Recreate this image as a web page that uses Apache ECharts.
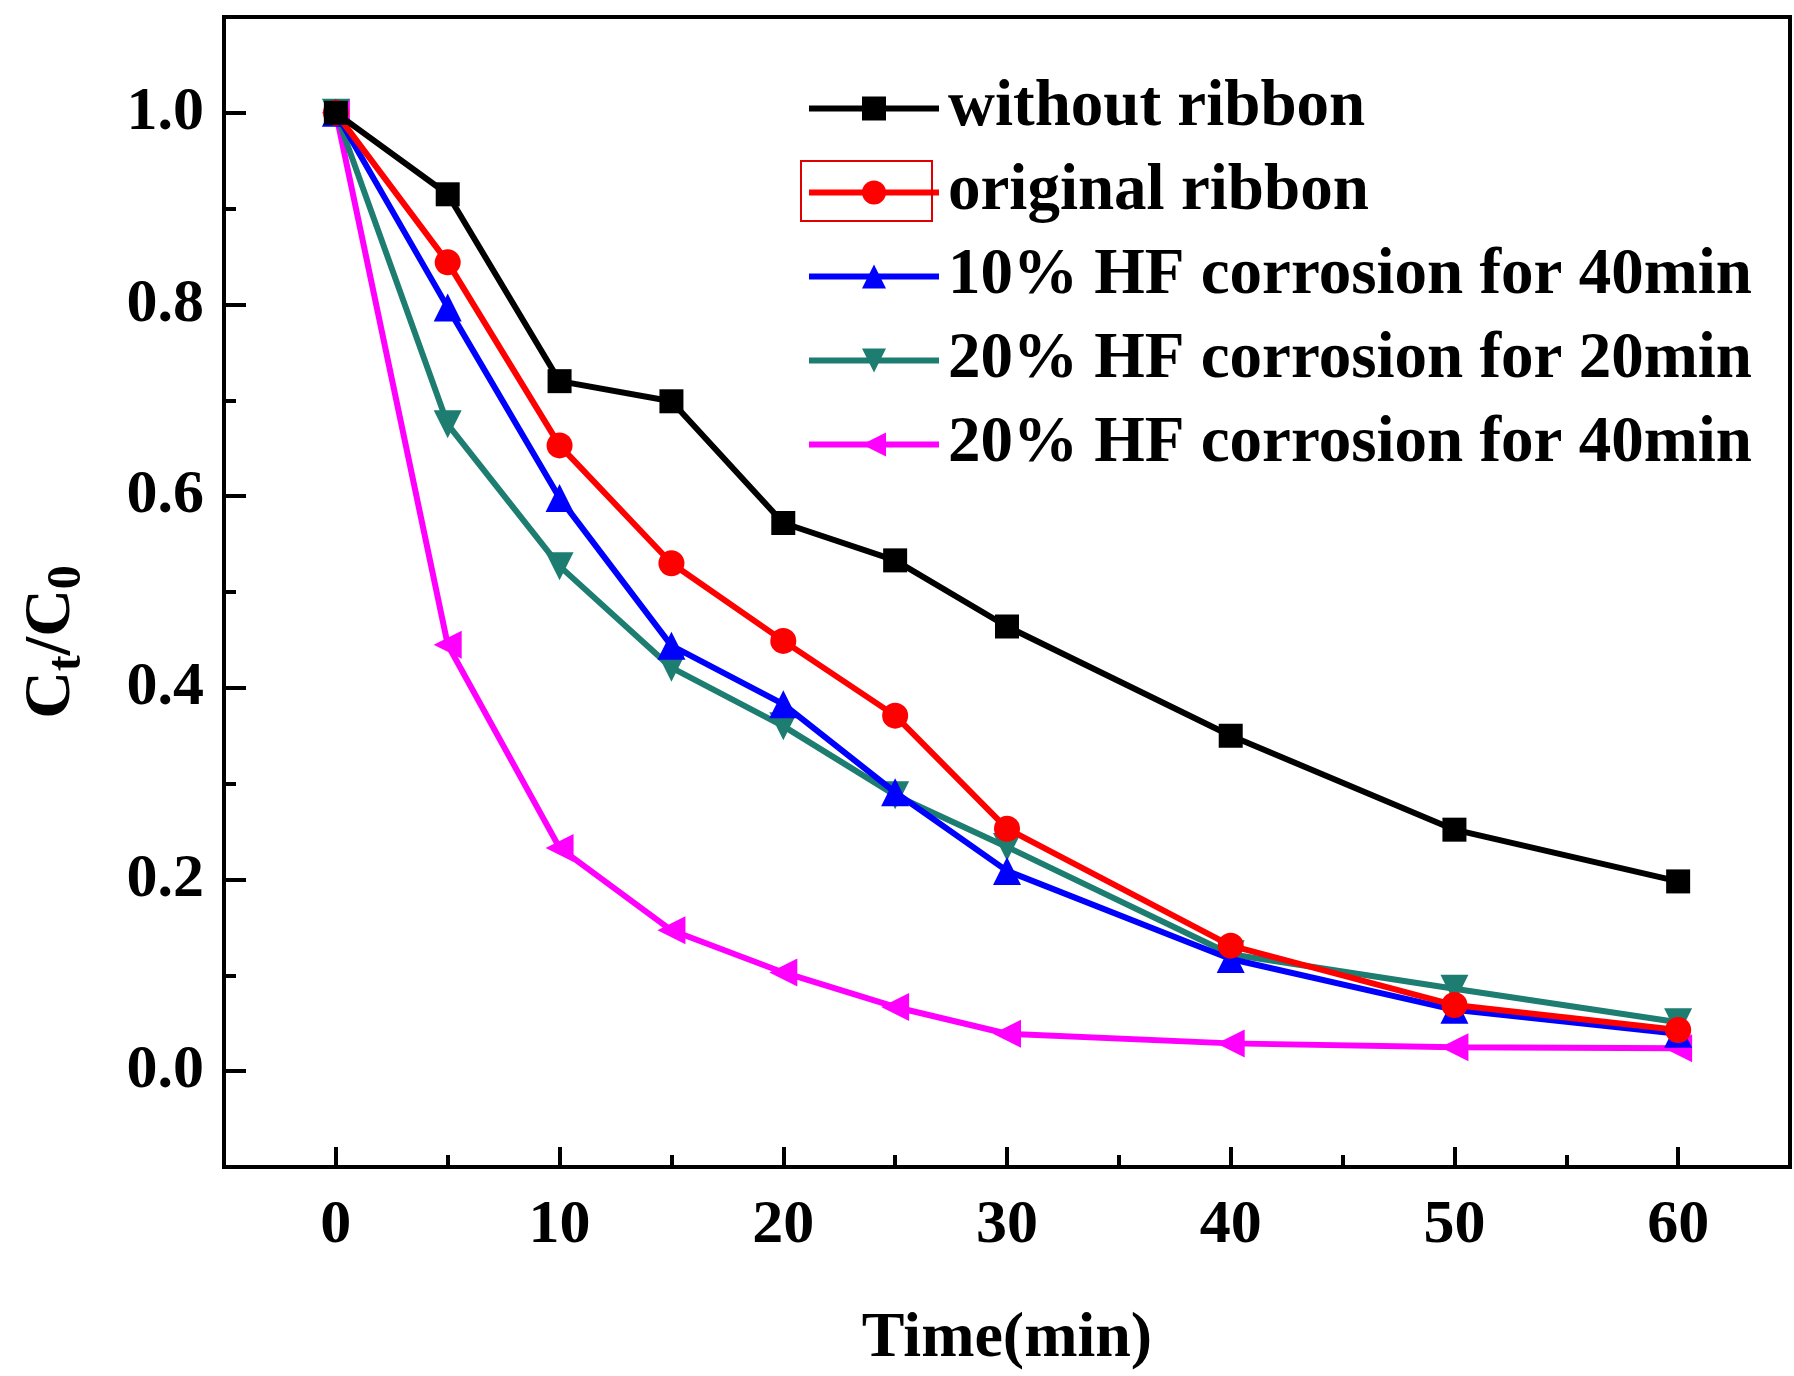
<!DOCTYPE html>
<html>
<head>
<meta charset="utf-8">
<script src="https://cdn.jsdelivr.net/npm/echarts@6/dist/echarts.min.js"></script>
<style>html,body{margin:0;padding:0;background:#fff;}#c{width:1794px;height:1376px;}</style>
</head>
<body>
<div id="c"></div>
<script>
const times = [0, 5, 10, 15, 20, 25, 30, 40, 50, 60];
const seriesNames = ['without ribbon', 'original ribbon', '10% HF corrosion for 40min', '20% HF corrosion for 20min', '20% HF corrosion for 40min'];
const withoutRibbon = [1.0, 0.915, 0.720, 0.699, 0.572, 0.533, 0.464, 0.350, 0.252, 0.198];
const originalRibbon = [1.0, 0.844, 0.653, 0.530, 0.449, 0.371, 0.253, 0.131, 0.069, 0.043];
const hf10_40 = [1.0, 0.797, 0.598, 0.444, 0.383, 0.291, 0.209, 0.117, 0.064, 0.039];
const hf20_20 = [1.0, 0.675, 0.527, 0.421, 0.360, 0.288, 0.234, 0.122, 0.086, 0.051];
const hf20_40 = [1.0, 0.445, 0.233, 0.147, 0.103, 0.067, 0.039, 0.029, 0.025, 0.024];
const xMajorTicks = [0, 10, 20, 30, 40, 50, 60];
const xMinorTicks = [5, 15, 25, 35, 45, 55];
const yMajorTicks = [0, 0.2, 0.4, 0.6, 0.8, 1.0];
const yMinorTicks = [0.1, 0.3, 0.5, 0.7, 0.9];

const colors = ['#000000', '#ff0000', '#0000ff', '#1d7d70', '#ff00ff'];
const symbols = ['rect', 'circle', 'triangle', 'triangle', 'triangle'];
const rotates = [0, 0, 0, 180, 90];
const sizes = [24, 26, 28, 28, 28];
const allData = [withoutRibbon, originalRibbon, hf10_40, hf20_20, hf20_40];

const FONT = '"Liberation Serif", "Times New Roman", serif';
const chart = echarts.init(document.getElementById('c'), null, {renderer: 'canvas'});

const series = allData.map((vals, i) => ({
  name: seriesNames[i],
  type: 'line',
  xAxisIndex: 0,
  yAxisIndex: 0,
  data: times.map((t, j) => [t, vals[j]]),
  symbol: symbols[i],
  symbolRotate: rotates[i],
  symbolSize: sizes[i],
  lineStyle: {color: colors[i], width: 6},
  itemStyle: {color: colors[i]},
  z: 10 - i,
  animation: false
}));

const option = {
  animation: false,
  backgroundColor: '#ffffff',
  grid: {left: 224, top: 17, right: 4, bottom: 207, show: true, borderColor: '#000', borderWidth: 4, backgroundColor: 'transparent'},
  legend: {
    orient: 'vertical',
    left: 801,
    top: 71,
    itemWidth: 130,
    itemHeight: 30,
    itemGap: 19,
    data: seriesNames,
    lineStyle: {width: 6},
    textStyle: {fontFamily: FONT, fontWeight: 'bold', fontSize: 65, color: '#000', lineHeight: 60, padding: [0, 0, 0, 4]}
  },
  xAxis: [
    {
      type: 'value', min: -5, max: 65, interval: 5,
      name: 'Time(min)', nameLocation: 'middle', nameGap: 140,
      nameTextStyle: {fontFamily: FONT, fontWeight: 'bold', fontSize: 64, color: '#000'},
      axisLine: {show: true, onZero: false, lineStyle: {color: '#000', width: 4}},
      axisTick: {show: true, inside: true, length: 20, customValues: xMajorTicks, lineStyle: {color: '#000', width: 4}},
      axisLabel: {show: true, customValues: xMajorTicks, margin: 28, fontFamily: FONT, fontWeight: 'bold', fontSize: 62, color: '#000'},
      splitLine: {show: false}
    },
    {
      type: 'value', min: -5, max: 65, interval: 5, position: 'bottom',
      axisLine: {show: false, onZero: false},
      axisTick: {show: true, inside: true, length: 12, customValues: xMinorTicks, lineStyle: {color: '#000', width: 4}},
      axisLabel: {show: false},
      splitLine: {show: false}
    }
  ],
  yAxis: [
    {
      type: 'value', min: -0.1, max: 1.1, interval: 0.1,
      name: '{c|C}{s|t}{c|/C}{s|0}', nameLocation: 'middle', nameGap: 132,
      nameTextStyle: {
        padding: [0, 100, 0, 0],
        rich: {
          c: {fontFamily: FONT, fontWeight: 'bold', fontSize: 66, color: '#000', lineHeight: 80, verticalAlign: 'middle'},
          s: {fontFamily: FONT, fontWeight: 'bold', fontSize: 48, color: '#000', lineHeight: 80, verticalAlign: 'bottom'}
        }
      },
      axisLine: {show: true, onZero: false, lineStyle: {color: '#000', width: 4}},
      axisTick: {show: true, inside: true, length: 22, customValues: yMajorTicks, lineStyle: {color: '#000', width: 4}},
      axisLabel: {show: true, customValues: yMajorTicks, margin: 20, fontFamily: FONT, fontWeight: 'bold', fontSize: 62, color: '#000',
        formatter: v => v.toFixed(1)},
      splitLine: {show: false}
    },
    {
      type: 'value', min: -0.1, max: 1.1, interval: 0.1, position: 'left',
      axisLine: {show: false, onZero: false},
      axisTick: {show: true, inside: true, length: 12, customValues: yMinorTicks, lineStyle: {color: '#000', width: 4}},
      axisLabel: {show: false},
      splitLine: {show: false}
    }
  ],
  graphic: [
    {type: 'rect', shape: {x: 801, y: 161, width: 131, height: 60}, style: {fill: 'none', stroke: '#e00000', lineWidth: 2}, z: 100}
  ],
  series: series
};
chart.setOption(option);
</script>
</body>
</html>
